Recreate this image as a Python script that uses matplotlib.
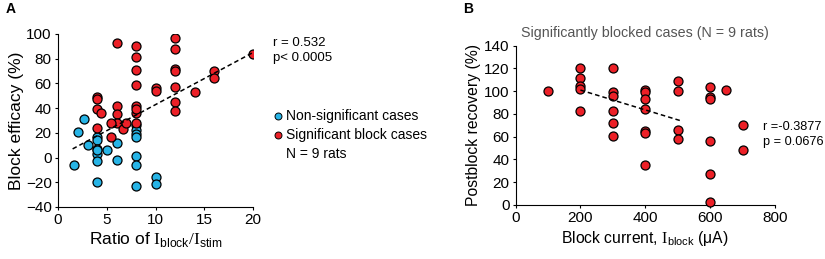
import matplotlib
matplotlib.use('Agg')
import matplotlib.pyplot as plt
import numpy as np

plt.rcParams['font.family'] = ['Liberation Sans', 'DejaVu Sans']
plt.rcParams['mathtext.fontset'] = 'custom'
plt.rcParams['mathtext.rm'] = 'Liberation Serif'
plt.rcParams['mathtext.sf'] = 'Liberation Sans'

RED = '#ec2027'
BLUE = '#27b4e6'

# Panel A : ratio Iblock/Istim vs block efficacy
ratio_sig = [6, 8, 8, 8, 8, 8, 8, 8, 12, 12, 12, 12, 12, 12, 12, 10, 10, 14, 16, 16, 20,
             4, 4, 4, 4, 4.4, 6, 6, 6, 5.4, 5.4, 6.7, 7.0, 8]
eff_sig = [93, 90, 81, 71, 59, 42, 36, 28, 97, 88, 72, 70, 57, 45, 38, 56, 54, 53, 70, 64, 84,
           49, 47, 39, 24, 36, 42, 35, 28, 28, 17, 23, 28, 39]
ratio_ns = [1.6, 2.1, 2.7, 3.1, 4, 4, 4, 4, 4, 4, 4, 5, 6, 6, 8, 8, 8, 8, 8, 8, 8, 10, 10]
eff_ns = [-6, 21, 31, 10, 17, 14, 7, 3, 6, -3, -20, 6, 12, -2, 26, 22, 19, 17, 1, -6, -23, -16, -21]
fit_a_x = [1.5, 20]
fit_a_y = [7, 85]

# Panel B : block current vs postblock recovery
current = [100, 200, 200, 200, 200, 200, 300, 300, 300, 300, 300, 300,
           400, 400, 400, 400, 400, 400, 400, 500, 500, 500, 500,
           600, 600, 600, 600, 600, 600, 650, 700, 700]
recovery = [100, 120, 112, 105, 102, 83, 120, 99, 96, 83, 72, 61,
            101, 99, 93, 84, 65, 63, 35, 109, 100, 66, 58,
            104, 95, 93, 56, 27, 3, 101, 70, 48]
fit_b_x = [200, 510]
fit_b_y = [101, 74]

fig = plt.figure(figsize=(8.25, 2.59), dpi=100)
axA = fig.add_axes([0.0703, 0.2008, 0.2364, 0.668])
axB = fig.add_axes([0.625, 0.2085, 0.3143, 0.615])

for ax in (axA, axB):
    ax.spines['top'].set_visible(False)
    ax.spines['right'].set_visible(False)
    ax.tick_params(labelsize=11, length=2.5, width=0.8, pad=2)

axA.scatter(ratio_ns, eff_ns, s=42, color=BLUE, edgecolor='black', linewidth=0.9, zorder=3)
axA.scatter(ratio_sig, eff_sig, s=42, color=RED, edgecolor='black', linewidth=0.9, zorder=3)
axA.plot(fit_a_x, fit_a_y, '--', color='black', linewidth=1.1, dashes=(3, 2), zorder=4)
axA.set_xlim(0, 20)
axA.set_ylim(-40, 100)
axA.set_xticks([0, 5, 10, 15, 20])
axA.set_yticks(np.arange(-40, 101, 20))
axA.set_ylabel('Block efficacy (%)', fontsize=12.5, labelpad=1)
axA.set_xlabel(r'Ratio of $\mathrm{I}_{\mathsf{block}}/\mathrm{I}_{\mathsf{stim}}$', fontsize=12.5, labelpad=2)

fig.text(273 / 825, 1 - 43 / 259, 'r = 0.532', fontsize=9.5, va='center')
fig.text(273 / 825, 1 - 58 / 259, 'p< 0.0005', fontsize=9.5, va='center')
for yy, col, lab in [(116, BLUE, 'Non-significant cases'), (135, RED, 'Significant block cases')]:
    fig.lines.append(plt.Line2D([278 / 825], [1 - yy / 259], marker='o', markersize=5,
                                color=col, markeredgecolor='black', markeredgewidth=0.7,
                                transform=fig.transFigure))
    fig.text(286 / 825, 1 - yy / 259, lab, fontsize=10, va='center')
fig.text(286 / 825, 1 - 154 / 259, 'N = 9 rats', fontsize=10, va='center')

axB.scatter(current, recovery, s=42, color=RED, edgecolor='black', linewidth=0.9, zorder=3, clip_on=False)
axB.plot(fit_b_x, fit_b_y, '--', color='black', linewidth=1.1, dashes=(3, 2), zorder=4)
axB.set_xlim(0, 800)
axB.set_ylim(0, 140)
axB.set_xticks([0, 200, 400, 600, 800])
axB.set_yticks(np.arange(0, 141, 20))
axB.set_ylabel('Postblock recovery (%)', fontsize=11.3, labelpad=2)
axB.set_xlabel(r'Block current, $\mathrm{I}_{\mathsf{block}}$ ($\mathsf{\mu}$A)', fontsize=11.3, labelpad=3)
axB.set_title('Significantly blocked cases (N = 9 rats)', fontsize=10.3, color='#555555', pad=6)

fig.text(763 / 825, 1 - 127 / 259, 'r =-0.3877', fontsize=9.2, va='center')
fig.text(763 / 825, 1 - 142 / 259, 'p = 0.0676', fontsize=9.2, va='center')

fig.text(6 / 825, 1 - 9 / 259, 'A', fontsize=10, fontweight='bold', va='center')
fig.text(463 / 825, 1 - 9 / 259, 'B', fontsize=10, fontweight='bold', va='center')

fig.savefig('out.png', dpi=100)
